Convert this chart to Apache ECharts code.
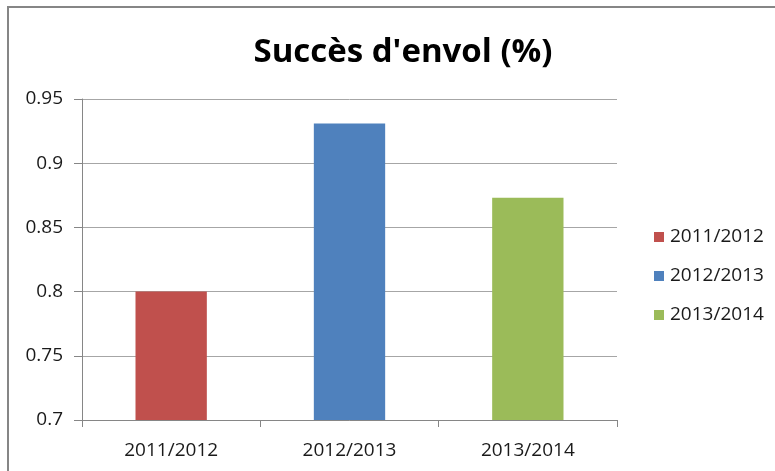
<!DOCTYPE html>
<html>
<head>
<meta charset="utf-8">
<style>
  html, body { margin: 0; padding: 0; background: #fff; }
  #frame { position: absolute; left: 7px; top: 6px; width: 780px; height: 480px; border: 2px solid #868686; box-sizing: border-box; }
  #chart { position: absolute; left: 0; top: 0; width: 775px; height: 471px; }
</style>
<script src="https://cdn.jsdelivr.net/npm/echarts@6/dist/echarts.min.js"></script>
</head>
<body>
<div id="frame"></div>
<div id="chart"></div>
<script>
// Seasons and fledging success per season
const categories = ['2011/2012', '2012/2013', '2013/2014'];
const seasons = ['2011/2012', '2012/2013', '2013/2014'];
const successRate = [0.800, 0.931, 0.873];
const seasonColors = ['#C0504D', '#4F81BD', '#9BBB59'];
const yTicks = { min: 0.7, max: 0.95, interval: 0.05 };

const labelFont = '"Open Sans", sans-serif';

// one series per season, each only filled at its own category,
// overlapped with barGap -100% so every bar sits centred in its slot
const series = seasons.map((name, i) => ({
  name: name,
  type: 'bar',
  barWidth: '40%',
  barGap: '-100%',
  itemStyle: { color: seasonColors[i] },
  data: categories.map((c, j) => (j === i ? successRate[i] : null))
}));

const chart = echarts.init(document.getElementById('chart'), null, { renderer: 'canvas' });
chart.setOption({
  animation: false,
  title: {
    text: "Succès d'envol (%)",
    left: 398,
    textAlign: 'center',
    top: 31,
    textStyle: {
      fontFamily: '"Open Sans", sans-serif',
      fontWeight: 'bold',
      fontSize: 33,
      color: '#000'
    }
  },
  legend: {
    orient: 'vertical',
    left: 649,
    top: 222,
    itemWidth: 10,
    itemHeight: 10,
    itemGap: 19,
    icon: 'rect',
    data: seasons,
    textStyle: { fontFamily: labelFont, fontSize: 19, color: '#1a1a1a', lineHeight: 20, padding: [0, 0, 0, 1] }
  },
  grid: { left: 82, right: 158, top: 99, bottom: 51, containLabel: false },
  xAxis: {
    type: 'category',
    data: categories,
    axisLine: { lineStyle: { color: '#868686', width: 1 } },
    axisTick: { show: true, length: 7, alignWithLabel: false, lineStyle: { color: '#868686' } },
    axisLabel: { fontFamily: labelFont, fontSize: 19, color: '#1a1a1a', margin: 21 }
  },
  yAxis: {
    type: 'value',
    min: yTicks.min,
    max: yTicks.max,
    interval: yTicks.interval,
    axisLine: { show: true, lineStyle: { color: '#868686', width: 1 } },
    axisTick: { show: true, length: 8, inside: false, lineStyle: { color: '#868686' } },
    axisLabel: {
      fontFamily: labelFont, fontSize: 19, color: '#1a1a1a', margin: 19,
      formatter: v => String(parseFloat(v.toFixed(2)))
    },
    splitLine: { lineStyle: { color: '#A6A6A6', width: 1 } }
  },
  series: series
});
</script>
</body>
</html>
